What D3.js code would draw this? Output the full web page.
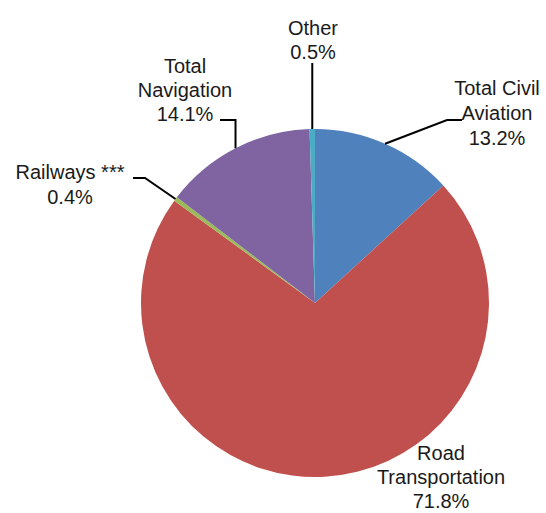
<!DOCTYPE html>
<head>
    <meta charset="utf-8" />
    <title>Transport share pie</title>
</head>
<style>
    body {
        margin: 0;
        background-color: #ffffff;
    }
    .label {
        font-family: "Liberation Sans", Arial, sans-serif;
        font-size: 20px;
        fill: #1a1a1a;
    }
    .leader {
        fill: none;
        stroke: #000000;
        stroke-width: 2px;
    }
</style>
<body>
    <svg id="pie" width="546" height="513"></svg>
    <script src="https://d3js.org/d3.v7.min.js"></script>
    <script>
        // data, clockwise from 12 o'clock
        var categories = ["Total Civil Aviation", "Road Transportation", "Railways ***", "Total Navigation", "Other"];
        var shares = [13.2, 71.8, 0.4, 14.1, 0.5];
        var labelLines = [
            ["Total Civil", "Aviation"],
            ["Road", "Transportation"],
            ["Railways ***"],
            ["Total", "Navigation"],
            ["Other"]
        ];
        var colors = ["#4f81bd", "#c0504d", "#9bbb59", "#8064a2", "#4bacc6"];

        // label placement (layout only)
        var labelPos = [
            { x: 497, y: 95, gap: 25, elbow: [447, 120], end: [462, 120] },
            { x: 441, y: 460, gap: 24 },
            { x: 70, y: 179, gap: 25, elbow: [145, 178], end: [133, 178] },
            { x: 185, y: 73, gap: 24, elbow: [null, 120], end: [220, 120] },
            { x: 313, y: 35, gap: 24, elbow: [null, 63], end: null }
        ];

        var svg = d3.select("#pie"),
            cx = 315,
            cy = 303,
            radius = 174;

        var g = svg.append("g").attr("transform", "translate(" + cx + "," + cy + ")");

        var data = categories.map(function(c, i) {
            return { name: c, value: shares[i], i: i };
        });

        var pie = d3.pie()
            .sort(null)
            .value(function(d) { return d.value; });

        var arc = d3.arc()
            .innerRadius(0)
            .outerRadius(radius);

        var edge = d3.arc()
            .innerRadius(radius)
            .outerRadius(radius);

        var arcs = pie(data);

        g.selectAll(".slice")
            .data(arcs)
            .enter().append("path")
            .attr("class", "slice")
            .attr("d", arc)
            .attr("fill", function(d) { return colors[d.data.i]; });

        // leader lines
        arcs.forEach(function(d) {
            var p = labelPos[d.data.i];
            if (!p.elbow) return;
            var c = edge.centroid(d);
            var pt = [cx + c[0], cy + c[1]];
            var elbow = [p.elbow[0] === null ? pt[0] : p.elbow[0], p.elbow[1]];
            var pts = [pt, elbow];
            if (p.end) pts.push(p.end);
            svg.append("path")
                .attr("class", "leader")
                .attr("d", d3.line()(pts));
        });

        // labels
        arcs.forEach(function(d) {
            var i = d.data.i;
            var p = labelPos[i];
            var lines = labelLines[i].concat([d3.format(".1f")(d.data.value) + "%"]);
            var t = svg.append("text")
                .attr("class", "label")
                .attr("text-anchor", "middle")
                .attr("x", p.x)
                .attr("y", p.y);
            lines.forEach(function(s, k) {
                t.append("tspan")
                    .attr("x", p.x)
                    .attr("dy", k === 0 ? 0 : p.gap)
                    .text(s);
            });
        });
    </script>
</body>
